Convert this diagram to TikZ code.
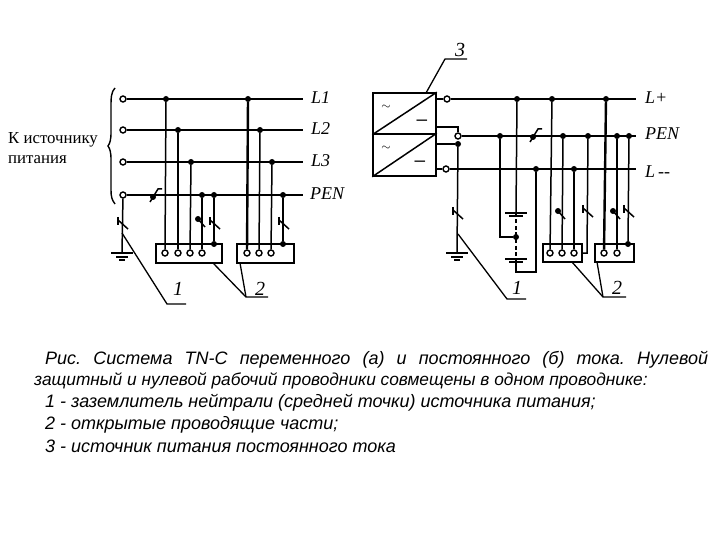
\documentclass[tikz,border=0pt]{standalone}
\usepackage{fontspec}
\setmainfont{Liberation Sans}
\newfontfamily\serfont{Liberation Serif}
\tikzset{
  term/.style={circle,draw,fill=white,line width=1.4pt,inner sep=0pt,minimum size=6pt},
  jn/.style={circle,fill=black,inner sep=0pt,minimum size=6pt},
  encl/.style={draw,line width=1.6pt,inner sep=0pt},
  wire/.style={line width=1.5pt},
  bus/.style={line width=2.4pt},
  thin wire/.style={line width=1.3pt},
  tag/.style={font=\serfont\itshape\fontsize{18}{18}\selectfont,anchor=base west,inner sep=0pt},
  num/.style={font=\serfont\itshape\fontsize{20}{20}\selectfont,inner sep=0pt},
  capt/.style={font=\itshape\fontsize{18}{20}\selectfont,anchor=base west,inner sep=0pt},
  sign/.style={font=\fontsize{13}{13}\selectfont\bfseries,inner sep=0pt},
  dcsign/.style={font=\fontsize{19}{19}\selectfont,inner sep=0pt},
  swk/.pic={\draw[line width=1.5pt] (-4,-6) -- (-4,2); \draw[line width=1.5pt] (-4,-3) -- (6,6);},
  swd/.pic={\fill (-4,-4) circle (3pt); \draw[line width=1.5pt] (-4,-4) -- (3,4);},
  cut/.pic={\draw[line width=1.5pt] (-5,7) -- (3,-6) -- (7,-6); \fill (-2,2) circle (3pt);},
  plate/.pic={\draw[line width=1.5pt] (-11,0) -- (11,0); \draw[line width=2pt] (-7,3) -- (7,3);},
  gnd/.pic={\draw[line width=1.5pt] (-11,0) -- (11,0); \draw[line width=1.3pt] (-6,4) -- (6,4);
    \draw[line width=1.3pt] (-3,7) -- (3,7);}
}
\begin{document}
\begin{tikzpicture}[x=1pt,y=-1pt]
\useasboundingbox (0,0) rectangle (720,540);

% left scheme
\node[font=\serfont\fontsize{16.8}{19.5}\selectfont,align=left,anchor=west,inner sep=0pt] (src) at (8,148) {К источнику\\питания};
\draw[line width=1.4pt] (115,88) .. controls (111,92) and (111,98) .. (111,108) -- (111,132)
  .. controls (111,140) and (110,143) .. (108,146) .. controls (110,149) and (111,152) .. (111,160)
  -- (111,190) .. controls (111,197) and (112,200) .. (115,204);

\node[term] (at1) at (123,99) {};
\node[term] (at2) at (123,130) {};
\node[term] (at3) at (123,162) {};
\node[term] (at4) at (123,195) {};
\coordinate (ae1) at (303,99);
\coordinate (ae2) at (303,130);
\coordinate (ae3) at (303,162);
\coordinate (ae4) at (303,195);
\node[tag] (al1) at (311,104) {L1};
\node[tag] (al2) at (311,135) {L2};
\node[tag] (al3) at (311,167) {L3};
\node[tag] (al4) at (310,200) {PEN};
\draw[bus] (at1) -- (ae1);
\draw[wire] (at2) -- (ae2);
\draw[wire] (at3) -- (ae3);
\draw[wire] (at4) -- (ae4);
\pic at (155,195) {cut};

\node[encl,minimum width=66pt,minimum height=19pt] (abx1) at (189,253.5) {};
\node[encl,minimum width=57pt,minimum height=19pt] (abx2) at (265.5,253.5) {};

\node[jn] (aj1) at (166,99) {};
\node[jn] (aj2) at (178,130) {};
\node[jn] (aj3) at (191,162) {};
\node[jn] (aj4) at (202,195) {};
\node[jn] (aj5) at (214,195) {};
\node[jn] (aj6) at (248,99) {};
\node[jn] (aj7) at (260,130) {};
\node[jn] (aj8) at (272,162) {};
\node[jn] (aj9) at (283,195) {};
\node[term] (ac1) at (165,253) {};
\node[term] (ac2) at (178,253) {};
\node[term] (ac3) at (190,253) {};
\node[term] (ac4) at (202,253) {};
\node[jn] (ac5) at (214,244) {};
\node[term] (ac6) at (247,253) {};
\node[term] (ac7) at (259,253) {};
\node[term] (ac8) at (271,253) {};
\node[jn] (ac9) at (283,244) {};
\draw[wire] (aj1) -- (ac1);
\draw[bus] (aj2) -- (ac2);
\draw[wire] (aj3) -- (ac3);
\draw[wire] (aj4) -- (ac4);
\draw[wire] (aj5) -- (ac5);
\draw[bus] (aj6) -- (ac6);
\draw[wire] (aj7) -- (ac7);
\draw[wire] (aj8) -- (ac8);
\draw[wire] (aj9) -- (ac9);
\pic at (202,223) {swd};
\pic at (214,223) {swk};
\pic at (283,223) {swk};

\coordinate (agn) at (122,253);
\draw[wire] (at4) -- (agn);
\pic at (122,223) {swk};
\pic at (122,253) {gnd};

\coordinate (as1) at (122,233);
\coordinate (ak1) at (167,304);
\coordinate (ak2) at (186,304);
\draw[thin wire] (as1) -- (ak1) -- (ak2);
\node[num] (an1) at (178,289) {1};
\coordinate (as2) at (213,263);
\coordinate (as3) at (240,263);
\coordinate (ak3) at (246,297);
\coordinate (ak4) at (268,297);
\draw[thin wire] (as2) -- (ak3) -- (ak4);
\draw[thin wire] (as3) -- (ak3);
\node[num] (an2) at (260,289) {2};

% right scheme
\node[encl,minimum width=63pt,minimum height=41pt] (btr1) at (404.5,113.5) {};
\node[encl,minimum width=63pt,minimum height=42pt] (btr2) at (404.5,155) {};
\draw[wire] (btr1.south west) -- (btr1.north east);
\draw[wire] (btr2.south west) -- (btr2.north east);
\node[sign] (bs1) at (386,107) {$\sim$};
\node[sign] (bs2) at (386,148) {$\sim$};
\node[dcsign] (bs3) at (422,123) {--};
\node[dcsign] (bs4) at (420,164) {--};

\coordinate (bs5) at (426,93);
\coordinate (bk1) at (445,59);
\coordinate (bk2) at (467,59);
\draw[thin wire] (bs5) -- (bk1) -- (bk2);
\node[num] (bn3) at (460,50) {3};

\node[term] (bt1) at (447,99) {};
\node[term] (bt2) at (458,136) {};
\node[term] (bt3) at (446,169) {};
\coordinate (bo1) at (436,99);
\coordinate (bo2) at (436,127);
\coordinate (bo3) at (458,127);
\coordinate (bo4) at (436,144);
\coordinate (bo5) at (436,169);
\node[jn] (bj0) at (458,144) {};
\coordinate (be1) at (636,99);
\coordinate (be2) at (636,136);
\coordinate (be3) at (636,169);
\node[tag] (bl1) at (645,104) {L+};
\node[tag] (bl2) at (645,140) {PEN};
\node[tag] (bl3) at (645,178) {L\,--};
\draw[bus] (bo1) -- (bt1) -- (be1);
\draw[wire] (bt2) -- (be2);
\draw[wire] (bo5) -- (bt3) -- (be3);
\draw[wire] (bo2) -- (bo3) -- (bt2);
\draw[wire] (bo4) -- (bj0);
\pic at (535,135) {cut};

\coordinate (bgn) at (457,253);
\draw[wire] (bj0) -- (bgn);
\pic at (457,213) {swk};
\pic at (457,253) {gnd};
\coordinate (bs6) at (458,234);
\coordinate (bk3) at (507,299);
\coordinate (bk4) at (526,299);
\draw[thin wire] (bs6) -- (bk3) -- (bk4);
\node[num] (bn1) at (517,288) {1};

% batteries
\node[jn] (bj1) at (500,136) {};
\node[jn] (bj2) at (517,99) {};
\node[jn] (bj3) at (536,169) {};
\node[jn] (bm) at (516,237) {};
\coordinate (bp1) at (516,213);
\coordinate (bp2) at (516,259);
\coordinate (bc1) at (500,237);
\coordinate (bc2) at (516,272);
\coordinate (bc3) at (536,272);
\draw[wire] (bj2) -- (bp1);
\draw[wire] (bj1) -- (bc1) -- (bm);
\draw[wire,dash pattern=on 4pt off 2.5pt] (bp1) -- (bp2);
\draw[wire] (bp2) -- (bc2) -- (bc3) -- (bj3);
\pic at (516,213) {plate};
\pic at (516,259) {plate};

% loads
\node[encl,minimum width=39pt,minimum height=18pt] (bbx1) at (562.5,253) {};
\node[encl,minimum width=39pt,minimum height=18pt] (bbx2) at (614.5,253) {};
\node[jn] (bj4) at (552,99) {};
\node[jn] (bj5) at (563,136) {};
\node[jn] (bj6) at (574,169) {};
\node[jn] (bj7) at (588,136) {};
\node[jn] (bj8) at (606,99) {};
\node[jn] (bj9) at (617,136) {};
\node[jn] (bj10) at (629,136) {};
\node[term] (bc4) at (550,253) {};
\node[term] (bc5) at (562,253) {};
\node[term] (bc6) at (574,253) {};
\coordinate (bc7) at (587,253);
\coordinate (bc8) at (582,253);
\node[term] (bc9) at (604,253) {};
\node[term] (bc10) at (617,253) {};
\node[jn] (bc11) at (628,244) {};
\draw[wire] (bj4) -- (bc4);
\draw[wire] (bj5) -- (bc5);
\draw[wire] (bj6) -- (bc6);
\draw[wire] (bj7) -- (bc7) -- (bc8);
\draw[bus] (bj8) -- (bc9);
\draw[wire] (bj9) -- (bc10);
\draw[wire] (bj10) -- (bc11);
\pic at (562,215) {swd};
\pic at (587,211) {swk};
\pic at (617,215) {swd};
\pic at (628,211) {swk};

\coordinate (bs7) at (572,262);
\coordinate (bs8) at (597,262);
\coordinate (bk5) at (603,297);
\coordinate (bk6) at (626,297);
\draw[thin wire] (bs7) -- (bk5) -- (bk6);
\draw[thin wire] (bs8) -- (bk5);
\node[num] (bn2) at (617,288) {2};

% caption
\node[capt] (cp1) at (45,364) {\frenchspacing\makebox[663pt][s]{Рис. Система TN-C переменного (а) и постоянного (б) тока. Нулевой}};
\node[capt,font=\itshape\fontsize{17.3}{20}\selectfont] (cp2) at (34,385) {защитный и нулевой рабочий проводники совмещены в одном проводнике:};
\node[capt] (cp3) at (45,407) {1 - заземлитель нейтрали (средней точки) источника питания;};
\node[capt] (cp4) at (45,429) {2 - открытые проводящие части;};
\node[capt] (cp5) at (45,452) {3 - источник питания постоянного тока};
\end{tikzpicture}
\end{document}
